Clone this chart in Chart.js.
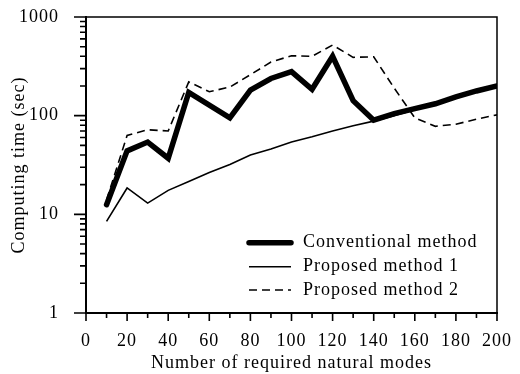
<!DOCTYPE html>
<html><head><meta charset="utf-8">
<script src="https://cdn.jsdelivr.net/npm/chart.js@4"></script>
<style>html,body{margin:0;padding:0;background:#fff}#wrap{width:520px;height:374px}</style>
</head><body><div id="wrap"><canvas id="c" width="520" height="374"></canvas></div>
<script>
const modes = [10,20,30,40,50,60,70,80,90,100,110,120,130,140,150,160,170,180,190,200];
const conventional = [12.5,44,54,37,172,null,95,182,238,280,185,400,142,90,105,118,132,155,178,200];
const proposed1 = [8.5,18.5,13,17.5,21.5,26.5,32,40,46,54,61,70,79,88,100,115,130,152,175,198];
const proposed2 = [14,63,72,70,220,175,195,260,350,405,400,520,390,395,190,95,78,82,92,102];
const seriesLabels = ['Conventional method','Proposed method 1','Proposed method 2'];
const yTickLabels = [1,10,100,1000];
const xTickLabels = [0,20,40,60,80,100,120,140,160,180,200];
const xTitle = 'Number of required natural modes';
const yTitle = 'Computing time (sec)';

const FONT = 'Liberation Serif';
const pts = arr => modes.map((m,i)=>({x:m,y:arr[i]}));

const spacingPlugin = {
  id:'spacing',
  beforeLayout(chart){ chart.ctx.letterSpacing='1px'; },
  beforeDraw(chart){
    const ctx=chart.ctx; ctx.letterSpacing='1px';
    ctx.save(); ctx.fillStyle='#fff'; ctx.fillRect(0,0,chart.width,chart.height); ctx.restore();
  }
};

const frame = {
  id:'frame',
  afterDraw(chart){
    const {ctx, chartArea:a, scales:{x,y}} = chart;
    ctx.save();
    ctx.strokeStyle='#000';
    ctx.lineWidth=1.6;
    ctx.beginPath();
    for (let d of [1,10,100]) {
      for (let k=1;k<=9;k++){
        const py=y.getPixelForValue(d*k);
        const len = k===1?12:6;
        ctx.moveTo(a.left-len,py); ctx.lineTo(a.left,py);
      }
    }
    const p1000=y.getPixelForValue(1000);
    ctx.moveTo(a.left-12,p1000); ctx.lineTo(a.left,p1000);
    for (let v=0; v<=200; v+=10){
      const px=x.getPixelForValue(v);
      const len = v%20===0?8:5;
      ctx.moveTo(px,a.bottom); ctx.lineTo(px,a.bottom+len);
    }
    ctx.stroke();
    ctx.lineWidth=1.5;
    ctx.beginPath();
    ctx.moveTo(a.left,a.top); ctx.lineTo(a.right,a.top); ctx.lineTo(a.right,a.bottom);
    ctx.stroke();
    // legend
    ctx.font = '18px "'+FONT+'"';
    ctx.fillStyle='#000';
    ctx.textBaseline='middle';
    ctx.textAlign='left';
    const rows=[242.7,266.7,290];
    chart.data.datasets.forEach((ds,i)=>{
      const yy=rows[i];
      ctx.save();
      ctx.lineWidth=ds.borderWidth;
      ctx.setLineDash(ds.borderDash||[]);
      ctx.lineCap = i===0?'round':'butt';
      ctx.beginPath(); ctx.moveTo(249,yy); ctx.lineTo(291,yy); ctx.stroke();
      ctx.restore();
      ctx.fillText(ds.label,303,yy);
    });
    ctx.restore();
  }
};

new Chart(document.getElementById('c'),{
  type:'line',
  data:{datasets:[
    {label:seriesLabels[0],data:pts(conventional),borderColor:'#000',borderWidth:5.5,pointRadius:0,spanGaps:true,borderJoinStyle:'miter',borderCapStyle:'round',order:1},
    {label:seriesLabels[1],data:pts(proposed1),borderColor:'#000',borderWidth:1.6,pointRadius:0,order:2},
    {label:seriesLabels[2],data:pts(proposed2),borderColor:'#000',borderWidth:1.6,borderDash:[8,5],pointRadius:0,order:3}
  ]},
  options:{
    responsive:false,animation:false,
    layout:{padding:{left:0,right:23,top:17,bottom:0}},
    plugins:{legend:{display:false},tooltip:{enabled:false}},
    scales:{
      x:{type:'linear',min:0,max:200,
        afterFit(s){s.height=61;s.paddingLeft=0;s.paddingRight=0;},
        afterBuildTicks(s){s.ticks=xTickLabels.map(v=>({value:v}));},
        ticks:{color:'#000',font:{family:FONT,size:18},padding:9,maxRotation:0,autoSkip:false},
        grid:{display:false},
        border:{display:true,color:'#000',width:2},
        title:{display:true,text:xTitle,color:'#000',font:{family:FONT,size:18},padding:{top:0,bottom:0}}
      },
      y:{type:'logarithmic',min:1,max:1000,
        afterFit(s){s.width=86;s.paddingTop=0;s.paddingBottom=0;},
        afterBuildTicks(s){s.ticks=yTickLabels.map(v=>({value:v}));},
        ticks:{color:'#000',font:{family:FONT,size:18},padding:19,autoSkip:false,callback:v=>String(v)},
        grid:{display:false},
        border:{display:true,color:'#000',width:2},
        title:{display:true,text:yTitle,color:'#000',font:{family:FONT,size:18},padding:{top:8,bottom:0}}
      }
    }
  },
  plugins:[spacingPlugin,frame]
});
</script></body></html>
